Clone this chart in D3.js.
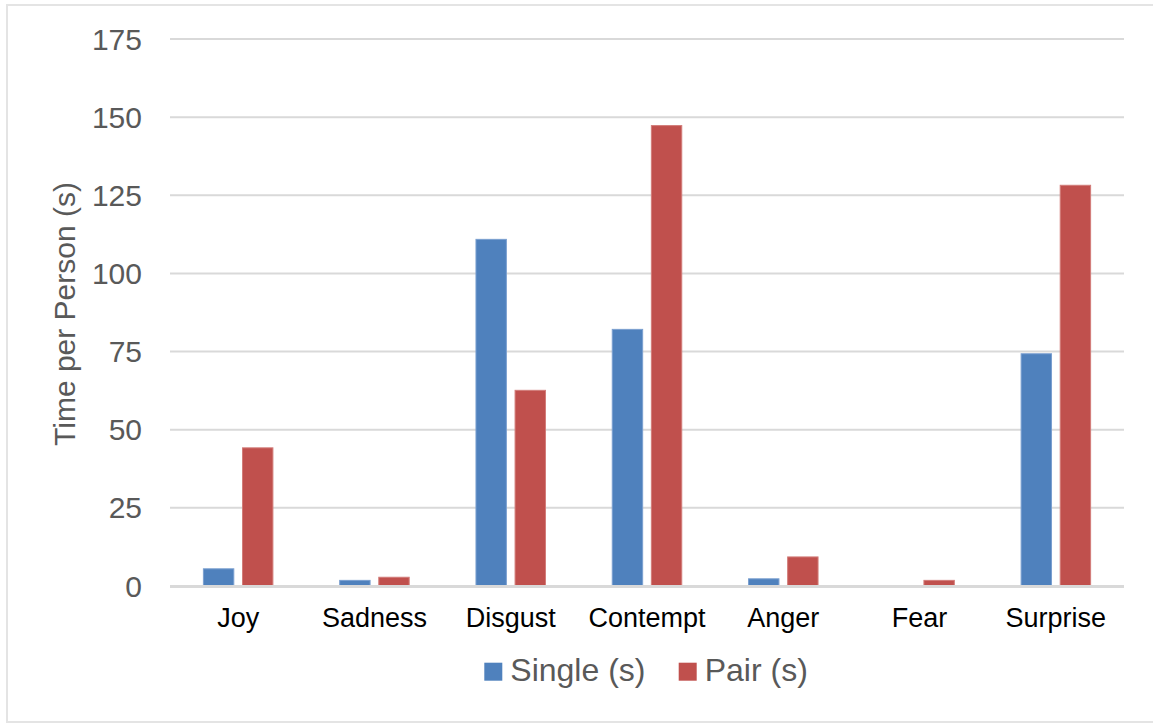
<!DOCTYPE html>
<html>
<head>
<meta charset="utf-8">
<script src="https://cdn.jsdelivr.net/npm/d3@7"></script>
<style>
  html, body { margin: 0; padding: 0; background: #fff; }
  svg { display: block; font-family: "Liberation Sans", Arial, sans-serif; }
</style>
</head>
<body>
<script>
// Emotion categories and time per person for each condition
const categories = ["Joy", "Sadness", "Disgust", "Contempt", "Anger", "Fear", "Surprise"];
const seriesNames = ["Single (s)", "Pair (s)"];
const singleValues = [5.5, 1.8, 110.9, 82.1, 2.3, 0, 74.3];
const pairValues = [44.2, 2.8, 62.6, 147.3, 9.3, 1.8, 128.2];
const yTicks = [0, 25, 50, 75, 100, 125, 150, 175];
const colors = ["#4F81BD", "#C0504D"];
const strokes = ["#7A9FD0", "#D27C79"];

const W = 1153, H = 724;
const plot = { left: 170, right: 1124, top: 39, bottom: 586 };

const svg = d3.select("body").append("svg").attr("width", W).attr("height", H);

// outer frame
svg.append("rect")
  .attr("x", 7).attr("y", 5).attr("width", 1160).attr("height", 717)
  .attr("fill", "#fff").attr("stroke", "#E4E4E4").attr("stroke-width", 2);

const y = d3.scaleLinear().domain([0, 175]).range([plot.bottom, plot.top]);
const x0 = d3.scaleBand().domain(categories).range([plot.left, plot.right]);
const groupOffset = 33.4, groupWidth = 69.5;
const x1 = d3.scaleBand().domain(seriesNames)
  .range([groupOffset, groupOffset + groupWidth]).paddingInner(0.2225);

// gridlines
svg.append("g").selectAll("line")
  .data(yTicks.filter(d => d > 0))
  .join("line")
  .attr("x1", plot.left).attr("x2", plot.right)
  .attr("y1", d => y(d)).attr("y2", d => y(d))
  .attr("stroke", "#D9D9D9").attr("stroke-width", 2);

// y tick labels
svg.append("g").selectAll("text")
  .data(yTicks)
  .join("text")
  .attr("x", 142)
  .attr("y", d => y(d) + 10.5)
  .attr("text-anchor", "end")
  .attr("font-size", 30)
  .attr("fill", "#595959")
  .text(d => d);

// bars
const rows = categories.map((c, i) => ({ cat: c, vals: [singleValues[i], pairValues[i]] }));
const groups = svg.append("g").selectAll("g")
  .data(rows)
  .join("g")
  .attr("transform", d => `translate(${x0(d.cat)},0)`);

groups.selectAll("rect")
  .data(d => d.vals.map((v, k) => ({ series: seriesNames[k], k, v })).filter(e => e.v > 0))
  .join("rect")
  .attr("x", d => x1(d.series))
  .attr("width", x1.bandwidth())
  .attr("y", d => y(d.v))
  .attr("height", d => y(0) - y(d.v))
  .attr("fill", d => colors[d.k])
  .attr("stroke", d => strokes[d.k])
  .attr("stroke-width", 1);

// baseline
svg.append("line")
  .attr("x1", plot.left).attr("x2", plot.right)
  .attr("y1", y(0) + 0.5).attr("y2", y(0) + 0.5)
  .attr("stroke", "#D9D9D9").attr("stroke-width", 3);

// category labels
svg.append("g").selectAll("text")
  .data(categories)
  .join("text")
  .attr("x", d => x0(d) + x0.bandwidth() / 2)
  .attr("y", 627)
  .attr("text-anchor", "middle")
  .attr("font-size", 27)
  .attr("fill", "#000")
  .text(d => d);

// y axis title
svg.append("text")
  .attr("transform", "translate(75,314) rotate(-90)")
  .attr("text-anchor", "middle")
  .attr("font-size", 30)
  .attr("fill", "#595959")
  .text("Time per Person (s)");

// legend
const legendX = [484.3, 678.7];
const legend = svg.append("g").selectAll("g")
  .data(seriesNames)
  .join("g")
  .attr("transform", (d, i) => `translate(${legendX[i]},0)`);
legend.append("rect")
  .attr("x", 0).attr("y", 662.7).attr("width", 18).attr("height", 18)
  .attr("fill", (d, i) => colors[i]);
legend.append("text")
  .attr("x", 26).attr("y", 681)
  .attr("font-size", 32)
  .attr("fill", "#595959")
  .text(d => d);
</script>
</body>
</html>
